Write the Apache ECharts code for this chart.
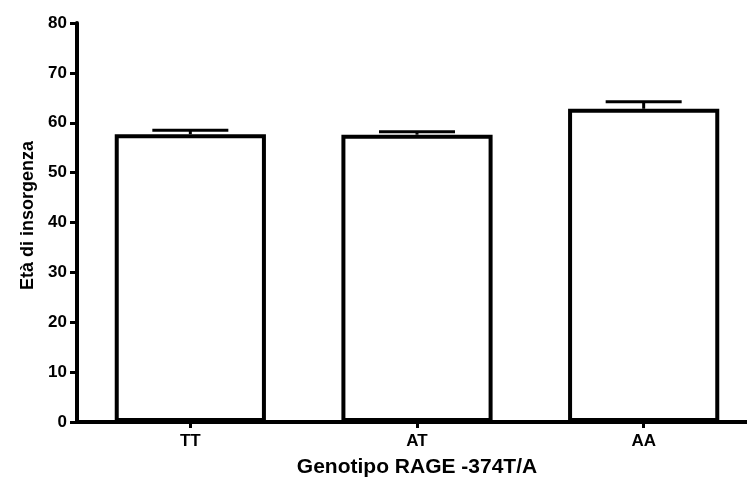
<!DOCTYPE html>
<html>
<head>
<meta charset="utf-8">
<script src="https://cdn.jsdelivr.net/npm/echarts@6/dist/echarts.min.js"></script>
<style>html,body{margin:0;padding:0;background:#fff;}#c{width:747px;height:481px;}</style>
</head>
<body>
<div id="c"></div>
<script>
const categories = ['TT', 'AT', 'AA'];
const means = [57.7, 57.6, 62.8];
const errors = [0.8, 0.6, 1.4];
const yTicks = [0, 10, 20, 30, 40, 50, 60, 70, 80];

const chart = echarts.init(document.getElementById('c'));
const font = 'Liberation Sans, Arial, sans-serif';
chart.setOption({
  animation: false,
  backgroundColor: '#fff',
  grid: { left: 77, right: -10, top: 23, bottom: 59, containLabel: false, outerBoundsMode: 'none' },
  xAxis: {
    type: 'category',
    data: categories,
    name: 'Genotipo RAGE -374T/A',
    nameLocation: 'middle',
    nameGap: 35,
    nameTextStyle: { fontFamily: font, fontSize: 21, fontWeight: 'bold', color: '#000' },
    axisLine: { lineStyle: { color: '#000', width: 4 } },
    axisTick: { show: true, alignWithLabel: true, length: 6, lineStyle: { color: '#000', width: 3 } },
    axisLabel: { fontFamily: font, fontSize: 17, fontWeight: 'bold', color: '#000', margin: 11 },
    splitLine: { show: false }
  },
  yAxis: {
    type: 'value',
    min: yTicks[0],
    max: yTicks[yTicks.length - 1],
    interval: 10,
    name: 'Età di insorgenza',
    nameLocation: 'middle',
    nameGap: 40,
    nameTextStyle: { fontFamily: font, fontSize: 18, fontWeight: 'bold', color: '#000', padding: [0, 0, 0, 14] },
    axisLine: { show: true, lineStyle: { color: '#000', width: 4 } },
    axisTick: { show: true, length: 7, lineStyle: { color: '#000', width: 3 } },
    axisLabel: { fontFamily: font, fontSize: 17, fontWeight: 'bold', color: '#000', margin: 10 },
    splitLine: { show: false }
  },
  series: [
    {
      type: 'bar',
      data: means,
      barCategoryGap: '33.3%',
      itemStyle: { color: '#fff', borderColor: '#000', borderWidth: 4 },
      z: 2
    },
    {
      type: 'custom',
      data: means.map((m, i) => [i, m, m + errors[i]]),
      z: 3,
      renderItem: function (params, api) {
        const base = api.coord([api.value(0), api.value(1)]);
        const top = api.coord([api.value(0), api.value(2)]);
        const half = 38;
        return {
          type: 'group',
          children: [
            { type: 'line', shape: { x1: base[0], y1: base[1], x2: top[0], y2: top[1] }, style: { stroke: '#000', lineWidth: 3 } },
            { type: 'line', shape: { x1: top[0] - half, y1: top[1], x2: top[0] + half, y2: top[1] }, style: { stroke: '#000', lineWidth: 3 } }
          ]
        };
      }
    }
  ]
});
</script>
</body>
</html>
